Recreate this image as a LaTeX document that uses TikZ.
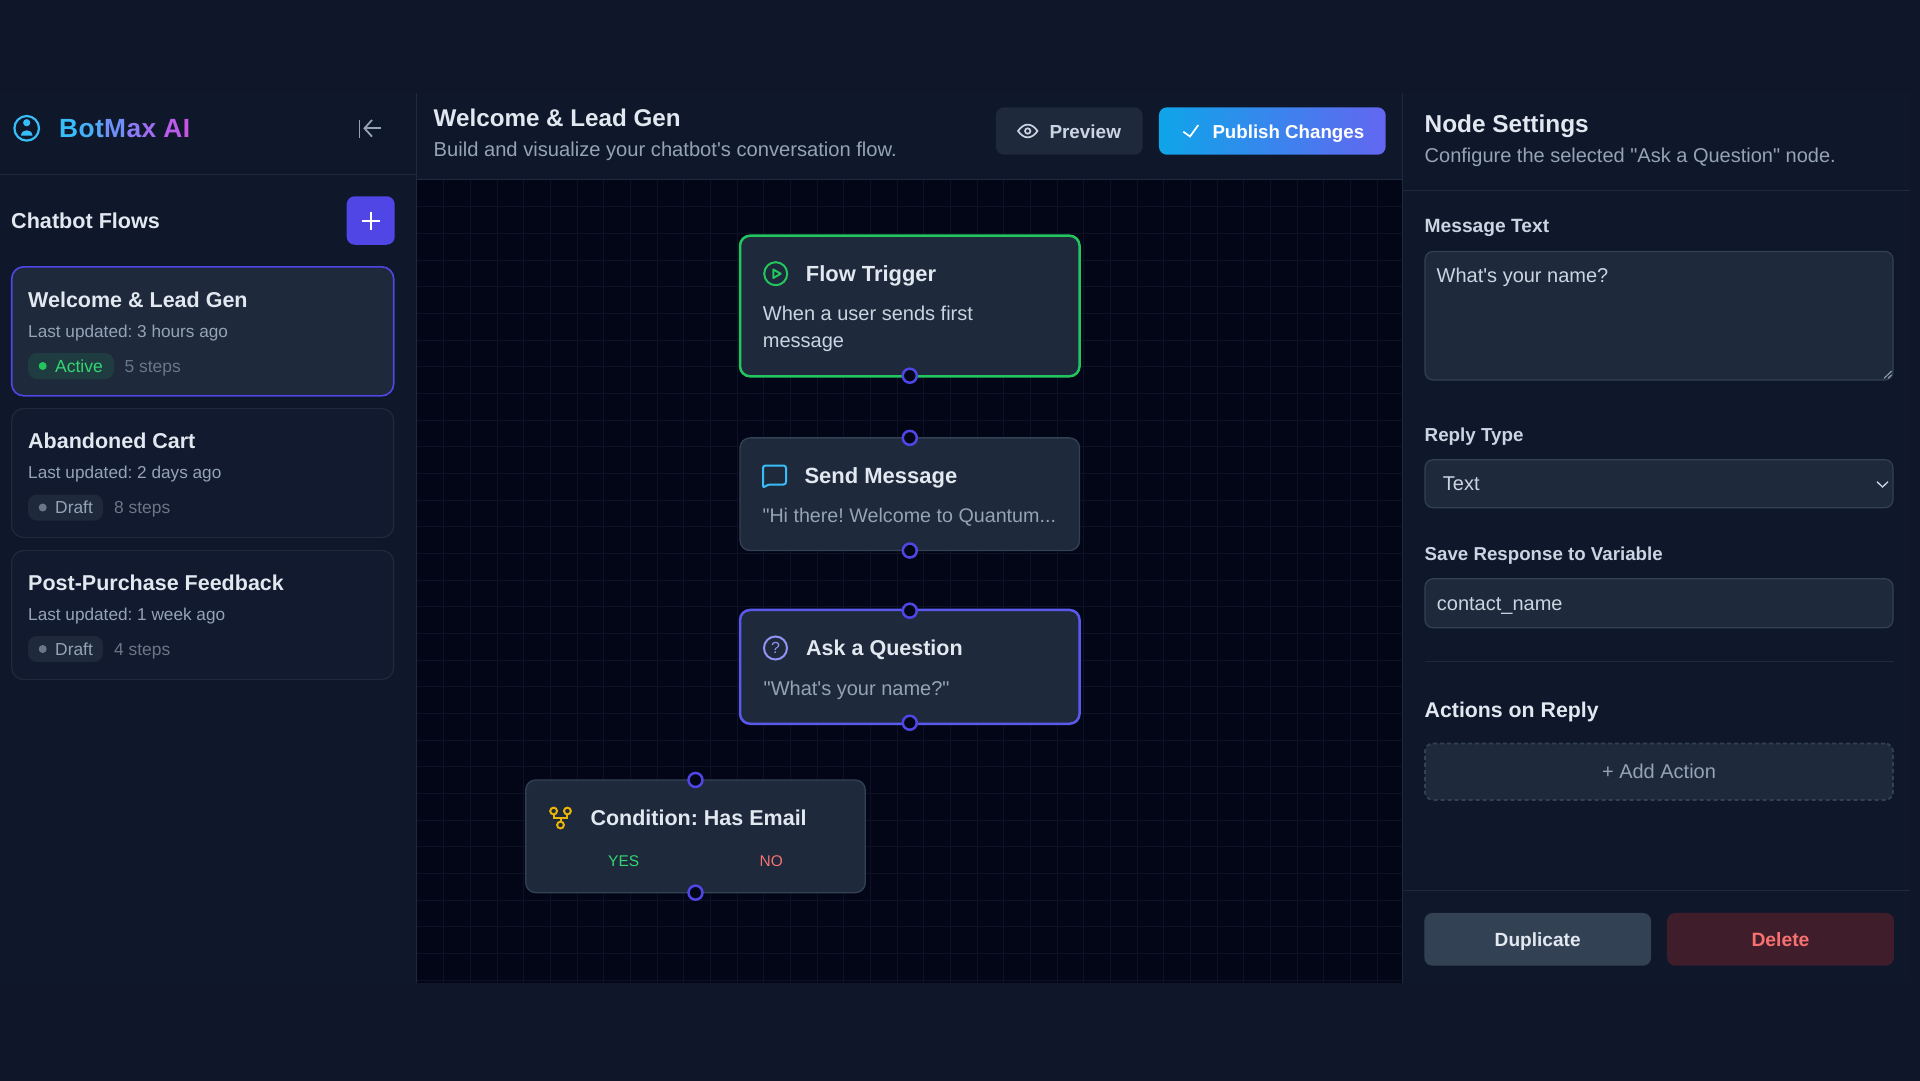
\documentclass[tikz,border=0pt]{standalone}
\usepackage{fontspec}
\setmainfont[Ligatures=TeXOff]{Liberation Sans}
\definecolor{outerbg}{HTML}{0F162A}
\definecolor{panelbg}{HTML}{0F172A}
\definecolor{canvasbg}{HTML}{020617}
\definecolor{gridc}{HTML}{0D1324}
\definecolor{slatea}{HTML}{1E293B}
\definecolor{slateb}{HTML}{334155}
\definecolor{cardoff}{HTML}{111A2E}
\definecolor{txtmain}{HTML}{E2E8F0}
\definecolor{txtsoft}{HTML}{CBD5E1}
\definecolor{txtdim}{HTML}{94A3B8}
\definecolor{txtlow}{HTML}{6B7688}
\definecolor{indigoc}{HTML}{4F46E5}
\definecolor{violetc}{HTML}{6366F1}
\definecolor{greenc}{HTML}{22C55E}
\definecolor{greent}{HTML}{34D672}
\definecolor{redc}{HTML}{F87171}
\definecolor{skyc}{HTML}{38BDF8}
\definecolor{skyb}{HTML}{0EA5E9}
\definecolor{amberc}{HTML}{EAB308}
\definecolor{delbg}{HTML}{3F1D2B}
\tikzset{
  txt/.style={anchor=base west, inner sep=0pt, font=\fontsize{#1}{#1}\selectfont},
  txtb/.style={anchor=base west, inner sep=0pt, font=\fontsize{#1}{#1}\selectfont\bfseries},
  ctr/.style={anchor=base, inner sep=0pt, font=\fontsize{#1}{#1}\selectfont\bfseries},
  flowbox/.style={rectangle, rounded corners=10, fill=slatea, inner sep=0pt, outer sep=0pt, minimum width=339.5, line width=2.5},
  sidebox/.style={rectangle, rounded corners=12, inner sep=0pt, minimum width=382, minimum height=129, line width=1.3},
  fieldbox/.style={rectangle, rounded corners=8, fill=slatea, draw=slateb, line width=1.2, inner sep=0pt, minimum width=468},
  btnbox/.style={rectangle, rounded corners=8, inner sep=0pt},
  badge/.style={rectangle, rounded corners=9, inner sep=0pt, minimum height=26},
  dotn/.style={circle, inner sep=0pt, minimum size=8},
  port/.style={circle, inner sep=0pt, minimum size=14, draw=indigoc, fill=canvasbg, line width=2.5},
}
\begin{document}
\frenchspacing
\begin{tikzpicture}[x=1pt,y=-1pt]
\useasboundingbox (0,0) rectangle (1920,1080);
\fill[outerbg] (-2,-2) rectangle (1922,1082);
\fill[panelbg] (0,93) rectangle (1910,983);
\fill[canvasbg] (417,180) rectangle (1402,983);
\foreach \gx in {1,...,36} \draw[gridc, line width=1] (417+26.67*\gx,180) -- (417+26.67*\gx,983);
\foreach \gy in {1,...,30} \draw[gridc, line width=1] (417,180+26.67*\gy) -- (1402,180+26.67*\gy);
\draw[slatea, line width=1.2] (416.5,93) -- (416.5,983);
\draw[slatea, line width=1.2] (1402.5,93) -- (1402.5,983);
\draw[slatea, line width=1.2] (0,174.5) -- (416,174.5);
\draw[slatea, line width=1.2] (417,179.5) -- (1402,179.5);
\draw[slatea, line width=1.2] (1403,190.5) -- (1910,190.5);
\draw[slatea, line width=1.2] (1424.5,661.5) -- (1893.5,661.5);
\draw[slatea, line width=1.2] (1403,890.5) -- (1910,890.5);
\draw[skyc, line width=2.2] (26.7,128.3) circle (12.3);
\fill[skyc] (26.7,122.7) circle (3.6);
\fill[skyc] (21,135.5) .. controls (21.5,128.5) and (32,128.5) .. (32.5,135.5) -- cycle;
\node[txtb=26.3] (brand) at (59,137) {\textcolor[HTML]{38BDF8}{B}\kern.4pt\textcolor[HTML]{45B0F8}{o}\kern.4pt\textcolor[HTML]{58A6F9}{t}\kern.4pt\textcolor[HTML]{6F8FF9}{M}\kern.4pt\textcolor[HTML]{8A7CF6}{a}\kern.4pt\textcolor[HTML]{A06DF0}{x} \textcolor[HTML]{B95CE9}{A}\kern.4pt\textcolor[HTML]{C855E4}{I}};
\draw[txtdim, line width=1.8] (359.5,119.5) -- (359.5,137.5);
\draw[txtdim, line width=1.8] (381,128.3) -- (364.5,128.3);
\draw[txtdim, line width=1.8] (372,120) -- (364.5,128.3) -- (372,136.6);
\node[txtb=21.6, text=txtmain] (flowhead) at (11,228) {Chatbot Flows};
\node[btnbox, fill=indigoc, minimum width=48, minimum height=48.5] (addflow) at (370.7,220.5) {};
\draw[white, line width=2] (361.5,220.5) -- (379.5,220.5);
\draw[white, line width=2] (370.7,211.5) -- (370.7,229.5);
\node[sidebox, fill=slatea, draw=indigoc, line width=1.6] (card0) at (202.7,331.3) {};
\node[txtb=21.5, text=txtmain] (card0t) at (28,307) {Welcome \& Lead Gen};
\node[txt=17.2, text=txtdim] (card0s) at (28,337) {Last updated: 3 hours ago};
\node[badge, fill=greenc!13!slatea, minimum width=86] (card0b) at (71,366) {};
\node[dotn, fill=greenc] (card0d) at (42.7,366) {};
\node[txt=17.5, text=greent] (card0a) at (55,372) {Active};
\node[txt=17.4, text=txtlow] (card0n) at (124.5,372) {5 steps};
\node[sidebox, fill=cardoff, draw=slatea] (card1) at (202.7,473) {};
\node[txtb=21.5, text=txtmain] (card1t) at (28,448.5) {Abandoned Cart};
\node[txt=17.2, text=txtdim] (card1s) at (28,478.5) {Last updated: 2 days ago};
\node[badge, fill=slatea, minimum width=75] (card1b) at (65.5,507.5) {};
\node[dotn, fill=txtlow] (card1d) at (42.7,507.5) {};
\node[txt=17.4, text=txtdim] (card1a) at (55,513.5) {Draft};
\node[txt=17.4, text=txtlow] (card1n) at (114,513.5) {8 steps};
\node[sidebox, fill=cardoff, draw=slatea] (card2) at (202.7,615) {};
\node[txtb=21.5, text=txtmain] (card2t) at (28,590.5) {Post-Purchase Feedback};
\node[txt=17.2, text=txtdim] (card2s) at (28,620.5) {Last updated: 1 week ago};
\node[badge, fill=slatea, minimum width=75] (card2b) at (65.5,649) {};
\node[dotn, fill=txtlow] (card2d) at (42.7,649) {};
\node[txt=17.4, text=txtdim] (card2a) at (55,655) {Draft};
\node[txt=17.4, text=txtlow] (card2n) at (114,655) {4 steps};
\node[txtb=24.2, text=txtmain] (pagehead) at (433.5,126.5) {Welcome \& Lead Gen};
\node[txt=20.15, text=txtdim] (pagesub) at (433.5,156.5) {Build and visualize your chatbot's conversation flow.};
\node[btnbox, fill=slatea, minimum width=146.7, minimum height=47.4] (preview) at (1069.3,131) {};
\draw[txtsoft, line width=1.7] (1018,131) .. controls (1024,122.5) and (1031.5,122.5) .. (1037.5,131) .. controls (1031.5,139.5) and (1024,139.5) .. (1018,131) -- cycle;
\draw[txtsoft, line width=1.7] (1027.7,131) circle (2.7);
\node[txtb=18.9, text=txtsoft] (previewt) at (1049.3,138) {Preview};
\node[btnbox, left color=skyb, right color=violetc, minimum width=226.7, minimum height=47.4] (publish) at (1272.3,131) {};
\draw[white, line width=1.7] (1183.3,131.7) -- (1190,136.5) -- (1198.3,125);
\node[txtb=18.7, text=white] (publisht) at (1212.3,138) {Publish Changes};
\node[flowbox, draw=greenc, minimum height=140.6] (trigger) at (909.8,306) {};
\draw[greenc, line width=2] (775.7,273.7) circle (11.5);
\draw[greenc, line width=2, line join=round] (773.3,269.5) -- (780.7,273.7) -- (773.3,278) -- cycle;
\node[txtb=21.9, text=txtmain] (triggert) at (805.7,281.7) {Flow Trigger};
\node[txt=20, text=txtsoft] (triggers) at (762.7,320.7) {When a user sends first};
\node[txt=20, text=txtsoft] (triggerw) at (762.7,347.3) {message};
\node[port] (trigger_out) at ([yshift=.6pt]trigger.south) {};
\node[flowbox, draw=slateb, line width=1.3, minimum height=112.7] (send) at (909.8,494.2) {};
\draw[skyc, line width=2, rounded corners=2.5] (763,488) -- (763,465.5) -- (786,465.5) -- (786,484.5) -- (768,484.5) -- cycle;
\node[txtb=22, text=txtmain] (sendt) at (804.3,483.3) {Send Message};
\node[txt=19.7, text=txtdim] (sends) at (762.3,522.7) {"Hi there! Welcome to Quantum...};
\node[port] (send_in) at (send.north) {};
\node[port] (send_out) at (send.south) {};
\node[flowbox, draw=violetc!60!indigoc, minimum height=113.8] (ask) at (909.8,666.85) {};
\draw[violetc!70!white, line width=2] (775.5,648) circle (11.5);
\node[anchor=base, inner sep=0pt, text=violetc!70!white, font=\fontsize{16}{16}\selectfont] (askq) at (775.5,653.7) {?};
\node[txtb=21.5, text=txtmain] (askt) at (806,655.3) {Ask a Question};
\node[txt=20, text=txtdim] (asks) at (763.5,695.3) {"What's your name?"};
\node[port] (ask_in) at ([yshift=-.75pt]ask.north) {};
\node[port] (ask_out) at ([yshift=1pt]ask.south) {};
\node[flowbox, draw=slateb, line width=1.3, minimum height=112.7] (cond) at (695.5,836.3) {};
\draw[amberc, line width=2] (553.6,811) circle (3.4);
\draw[amberc, line width=2] (567.4,811) circle (3.4);
\draw[amberc, line width=2] (560.5,825) circle (3.4);
\draw[amberc, line width=2] (553.6,814.4) -- (553.6,817.8) -- (567.4,817.8) -- (567.4,814.4);
\draw[amberc, line width=2] (560.5,817.8) -- (560.5,821.6);
\node[txtb=21.5, text=txtmain] (condt) at (590.3,825) {Condition: Has Email};
\node[txt=15.5, text=greent] (condy) at (608,866) {YES};
\node[txt=15.5, text=redc] (condn) at (759.5,866) {NO};
\node[port] (cond_in) at (cond.north) {};
\node[port] (cond_out) at (cond.south) {};
\node[txtb=24.4, text=txtmain] (sethead) at (1424.5,132) {Node Settings};
\node[txt=20, text=txtdim] (setsub) at (1424.5,162.5) {Configure the selected "Ask a Question" node.};
\node[txtb=19.2, text=txtsoft] (msgl) at (1424.5,232.5) {Message Text};
\node[fieldbox, minimum height=128.5] (msgf) at (1659,315.7) {};
\node[txt=20, text=txtsoft] (msgt) at (1436.5,282.5) {What's your name?};
\draw[txtdim, line width=1] (1884,378.3) -- (1891.7,371);
\draw[txtdim, line width=1] (1888,378.3) -- (1891.7,374.8);
\node[txtb=18.8, text=txtsoft] (repl) at (1424.5,441) {Reply Type};
\node[fieldbox, minimum height=48] (repf) at (1659,483.7) {};
\node[txt=20, text=txtsoft] (rept) at (1442.7,490.7) {Text};
\draw[txtsoft, line width=1.3] (1877,481.7) -- (1882.5,487) -- (1888,481.7);
\node[txtb=18.7, text=txtsoft] (savel) at (1424.5,560.7) {Save Response to Variable};
\node[fieldbox, minimum height=49] (savef) at (1659,603.3) {};
\node[txt=20, text=txtsoft] (savet) at (1436.7,610) {contact\_name};
\node[txtb=21.3, text=txtmain] (actl) at (1424.5,717.3) {Actions on Reply};
\node[fieldbox, dash pattern=on 4pt off 3pt, line width=1.8, minimum height=56.5] (actf) at (1659,771.7) {};
\node[anchor=base, inner sep=0pt, text=txtdim, font=\fontsize{20}{20}\selectfont] (actt) at (1659,778.5) {+ Add Action};
\node[btnbox, fill=slateb, minimum width=226.7, minimum height=52.7] (dupb) at (1537.7,939.3) {};
\node[ctr=19.1, text=txtmain] (dupt) at (1537.7,946.5) {Duplicate};
\node[btnbox, fill=delbg, minimum width=226.7, minimum height=52.7] (delb) at (1780.5,939.3) {};
\node[ctr=19.3, text=redc] (delt) at (1780.5,946.5) {Delete};
\end{tikzpicture}
\end{document}
